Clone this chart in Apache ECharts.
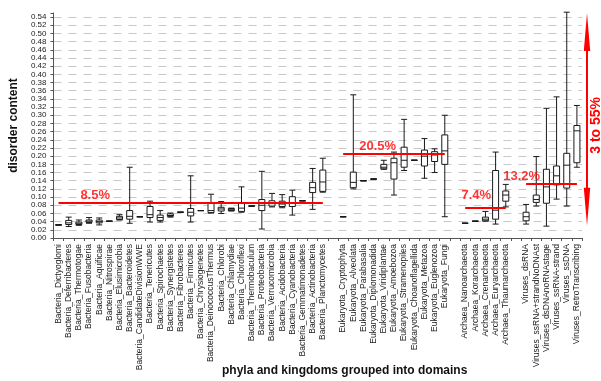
<!DOCTYPE html>
<html><head><meta charset="utf-8">
<script src="https://cdn.jsdelivr.net/npm/echarts@6/dist/echarts.min.js"></script>
<style>html,body{margin:0;padding:0;background:#fff}#c{width:601px;height:381px}</style>
</head><body><div id="c"></div>
<script>
// ---- data ----
const bacteriaNames = ['Bacteria_Dictyoglomi','Bacteria_Deferribacteres','Bacteria_Thermotogae','Bacteria_Fusobacteria','Bacteria_Aquificae','Bacteria_Nitrospirae','Bacteria_Elusimicrobia','Bacteria_Bacteroidetes','Bacteria_CandidateDivisionWWE','Bacteria_Tenericutes','Bacteria_Spirochaetes','Bacteria_Synergistetes','Bacteria_Fibrobacteres','Bacteria_Firmicutes','Bacteria_Chrysiogenetes','Bacteria_DeinococcusThermus','Bacteria_Chlorobi','Bacteria_Chlamydiae','Bacteria_Chloroflexi','Bacteria_Thermobaculum','Bacteria_Proteobacteria','Bacteria_Verrucomicrobia','Bacteria_Acidobacteria','Bacteria_Cyanobacteria','Bacteria_Gemmatimonadetes','Bacteria_Actinobacteria','Bacteria_Planctomycetes'];
const bacteriaBoxes = [
 [0.032,0.032,0.032,0.032,0.032],[0.028,0.033,0.037,0.043,0.051],[0.031,0.033,0.036,0.039,0.044],[0.036,0.038,0.041,0.044,0.050],
 [0.032,0.037,0.040,0.044,0.049],[0.041,0.041,0.041,0.041,0.041],[0.044,0.045,0.049,0.053,0.057],[0.036,0.046,0.053,0.067,0.173],
 [0.052,0.052,0.052,0.052,0.052],[0.039,0.050,0.057,0.077,0.090],[0.039,0.043,0.050,0.056,0.067],[0.051,0.053,0.055,0.059,0.061],
 [0.063,0.063,0.063,0.063,0.063],[0.039,0.054,0.063,0.072,0.152],[0.067,0.067,0.067,0.067,0.067],[0.061,0.062,0.067,0.086,0.107],
 [0.060,0.066,0.071,0.075,0.089],[0.066,0.067,0.069,0.072,0.073],[0.063,0.065,0.073,0.085,0.125],[0.078,0.078,0.078,0.078,0.078],
 [0.022,0.067,0.080,0.094,0.163],[0.076,0.078,0.084,0.091,0.109],[0.074,0.077,0.083,0.090,0.106],[0.056,0.077,0.086,0.101,0.117],
 [0.091,0.091,0.091,0.091,0.091],[0.070,0.111,0.123,0.136,0.170],[0.112,0.114,0.137,0.166,0.195]];
const eukaryotaNames = ['Eukaryota_Cryptophyta','Eukaryota_Alveolata','Eukaryota_Parabasalia','Eukaryota_Diplomonadida','Eukaryota_Viridiplantae','Eukaryota_Amoebozoa','Eukaryota_Stramenopiles','Eukaryota_Choanoflagellida','Eukaryota_Metazoa','Eukaryota_Euglenozoa','Eukaryota_Fungi'];
const eukaryotaBoxes = [
 [0.052,0.052,0.052,0.052,0.052],[0.120,0.123,0.136,0.161,0.350],[0.140,0.140,0.140,0.140,0.140],[0.144,0.144,0.144,0.144,0.144],
 [0.168,0.169,0.173,0.180,0.190],[0.105,0.144,0.184,0.195,0.210],[0.165,0.173,0.190,0.222,0.290],[0.190,0.190,0.190,0.190,0.190],
 [0.146,0.176,0.200,0.215,0.243],[0.160,0.187,0.203,0.211,0.218],[0.052,0.180,0.213,0.252,0.300]];
const archaeaNames = ['Archaea_Nanoarchaeota','Archaea_Korarchaeota','Archaea_Crenarchaeota','Archaea_Euryarchaeota','Archaea_Thaumarchaeota'];
const archaeaBoxes = [
 [0.036,0.036,0.036,0.036,0.036],[0.041,0.041,0.041,0.041,0.041],[0.041,0.042,0.046,0.051,0.065],[0.034,0.046,0.068,0.165,0.210],
 [0.076,0.090,0.105,0.115,0.131]];
const virusNames = ['Viruses_dsRNA','Viruses_ssRNA+strandNoDNAst','Viruses_dsDNAnoRNAstage','Viruses_ssRNA-strand','Viruses_ssDNA','Viruses_RetroTranscribing'];
const virusBoxes = [
 [0.034,0.042,0.052,0.063,0.082],[0.078,0.087,0.094,0.105,0.199],[0.029,0.085,0.125,0.168,0.317],[0.095,0.130,0.152,0.176,0.345],
 [0.078,0.122,0.178,0.207,0.552],[0.173,0.184,0.262,0.275,0.324]];
const domainAverages = [0.085, 0.205, 0.074, 0.132];
const domainAvgLabels = ['8.5%', '20.5%', '7.4%', '13.2%'];
const yTicks = [0, 0.55, 0.02];           // min, max, interval
const rangeArrow = [0.03, 0.55];          // overall range 3 to 55%
const rangeArrowLabel = '3 to 55%';

// ---- build ----
const groups = [[bacteriaNames, bacteriaBoxes],[eukaryotaNames, eukaryotaBoxes],[archaeaNames, archaeaBoxes],[virusNames, virusBoxes]];
const categories = [], boxes = [], domainStart = [], domainEnd = [];
groups.forEach((g, gi) => {
  if (gi > 0) { categories.push(' '.repeat(gi)); boxes.push(['-','-','-','-','-']); }
  domainStart.push(categories.length);
  g[0].forEach((n, i) => { categories.push(n); boxes.push(g[1][i]); });
  domainEnd.push(categories.length - 1);
});
const FONT = "'Liberation Sans', Arial, sans-serif";
const RED = '#ff0000';
const labelOffsets = [[-4,-8],[4,-8],[1,-12.5],[-4.5,-7.5]];
const labelIdx = [4, 31, 41, 46];

const nTicks = Math.floor(yTicks[1] / yTicks[2] + 1e-9) + 2;
const gridColors = [];
for (let i = 0; i < nTicks; i++) gridColors.push(i === nTicks - 1 ? 'rgba(0,0,0,0)' : '#c8c8c8');

const chart = echarts.init(document.getElementById('c'), null, {renderer: 'canvas'});
const option = {
  animation: false,
  backgroundColor: '#fff',
  textStyle: {fontFamily: FONT},
  title: {text: 'phyla and kingdoms grouped into domains', left: 222, top: 365, padding: 0,
    textStyle: {fontSize: 12, fontWeight: 'bold', color: '#111', fontFamily: FONT}},
  grid: {left: 45, right: 19, top: 13, bottom: 143},
  xAxis: {
    type: 'category', data: categories, boundaryGap: true,
    axisLine: {lineStyle: {color: '#555', width: 1}},
    axisTick: {show: true, interval: 0, length: 3, lineStyle: {color: '#555'}},
    axisLabel: {interval: 0, rotate: 90, fontSize: 8.5, color: '#222', margin: 6, fontFamily: FONT},
    splitLine: {show: false}
  },
  yAxis: {
    type: 'value', min: yTicks[0], max: yTicks[1], interval: yTicks[2],
    name: 'disorder content', nameLocation: 'middle', nameGap: 26,
    nameTextStyle: {fontSize: 12, fontWeight: 'bold', color: '#111', fontFamily: FONT},
    axisLine: {show: true, lineStyle: {color: '#555', width: 1}},
    axisTick: {show: true, length: 3, lineStyle: {color: '#555'}},
    axisLabel: {fontSize: 8, color: '#222', margin: 7, fontFamily: FONT,
      formatter: v => (v > yTicks[1] - yTicks[2] / 2 ? '' : v.toFixed(2))},
    splitLine: {show: true, lineStyle: {color: gridColors, type: [8, 7], width: 1}}
  },
  series: [
    {
      type: 'boxplot', data: boxes, boxWidth: [6, 6], silent: true,
      itemStyle: {color: '#fff', borderColor: '#1a1a1a', borderWidth: 1},
      emphasis: {disabled: true}
    },
    {
      type: 'scatter', symbolSize: 0, silent: true,
      data: domainAverages.map((v, i) => ({
        value: [labelIdx[i], v],
        label: {show: true, position: 'inside', offset: labelOffsets[i], formatter: domainAvgLabels[i],
          color: RED, fontSize: 13, fontWeight: 'bold', fontFamily: FONT}
      })),
      markLine: {
        silent: true, symbol: ['none', 'none'], animation: false,
        lineStyle: {color: RED, width: 2, type: 'solid'},
        label: {show: false},
        data: domainAverages.map((v, i) => [{coord: [domainStart[i], v]}, {coord: [domainEnd[i], v]}])
      }
    }
  ]
};
chart.setOption(option);

// range arrow at right
const yTop = chart.convertToPixel({yAxisIndex: 0}, rangeArrow[1]);
const yBot = chart.convertToPixel({yAxisIndex: 0}, rangeArrow[0]);
const ax = 587, headLen = 38, headHalf = 3.2;
chart.setOption({
  graphic: [
    {type: 'line', shape: {x1: ax, y1: yTop + headLen - 2, x2: ax, y2: yBot - headLen + 2}, style: {stroke: RED, lineWidth: 2}, silent: true},
    {type: 'polygon', shape: {points: [[ax, yTop], [ax + headHalf, yTop + headLen], [ax - headHalf, yTop + headLen]]}, style: {fill: RED}, silent: true},
    {type: 'polygon', shape: {points: [[ax, yBot], [ax + headHalf, yBot - headLen], [ax - headHalf, yBot - headLen]]}, style: {fill: RED}, silent: true},
    {type: 'text', x: 596.5, y: (yTop + yBot) / 2 + 6, rotation: Math.PI / 2,
      style: {text: rangeArrowLabel, fill: RED, font: "bold 14px 'Liberation Sans', Arial, sans-serif", align: 'center', verticalAlign: 'middle'}, silent: true}
  ]
});
</script>
</body></html>
